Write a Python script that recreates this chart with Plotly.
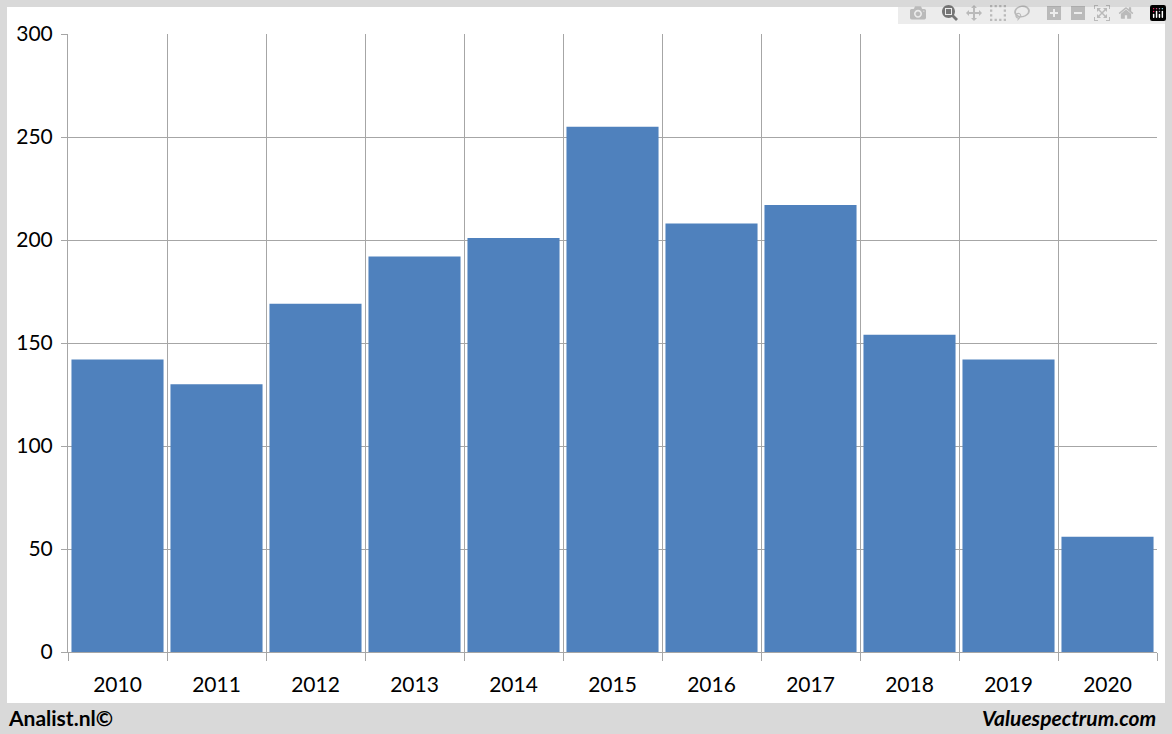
import plotly.graph_objects as go

years = ["2010","2011","2012","2013","2014","2015","2016","2017","2018","2019","2020"]
values = [142, 130, 169, 192, 201, 255, 208, 217, 154, 142, 56]
ytick_vals = [0, 50, 100, 150, 200, 250, 300]

fig = go.Figure(go.Bar(x=years, y=values, marker=dict(color="#4f81bd", line=dict(width=0))))

L, R, T, B = 68, 15, 34, 82
W, H = 1172, 734
pw, ph = W - L - R, H - T - B
def px(x): return (x - L) / pw
def py(y): return (H - B - y) / ph

font = dict(family="Lato, Open Sans, sans-serif", size=21, color="#000")
fig.update_layout(
    width=W, height=H, margin=dict(l=L, r=R, t=T, b=B),
    paper_bgcolor="#d9d9d9", plot_bgcolor="white", bargap=0.07,
    showlegend=False, font=font,
    shapes=[dict(type="rect", xref="paper", yref="paper", x0=px(7), x1=px(1165), y0=py(703), y1=py(7),
                 fillcolor="white", line=dict(width=0), layer="below")],
    annotations=[
        dict(text="<b>Analist.nl©</b>", xref="paper", yref="paper", x=px(6), y=py(717), xanchor="left", yanchor="middle",
             showarrow=False, font=dict(family="Lato, sans-serif", size=21)),
        dict(text="<b><i>Valuespectrum.com</i></b>", xref="paper", yref="paper", x=px(1158), y=py(717), xanchor="right", yanchor="middle",
             showarrow=False, font=dict(family="Lato, sans-serif", size=21)),
    ],
)
fig.update_xaxes(tickson="boundaries", showgrid=True, gridcolor="#a6a6a6", gridwidth=1,
                 ticks="outside", ticklen=8, tickcolor="#a6a6a6", showline=True, linecolor="#a6a6a6",
                 ticklabelstandoff=14, mirror=False)
fig.update_yaxes(range=[0, 300], tickvals=ytick_vals, showgrid=True, gridcolor="#a6a6a6", gridwidth=1,
                 ticks="outside", ticklen=6, tickcolor="#a6a6a6", showline=True, linecolor="#a6a6a6",
                 zeroline=False, ticklabelstandoff=4)

fig.write_html("out.html", post_script="document.body.style.margin='0';document.body.style.overflow='hidden';")
